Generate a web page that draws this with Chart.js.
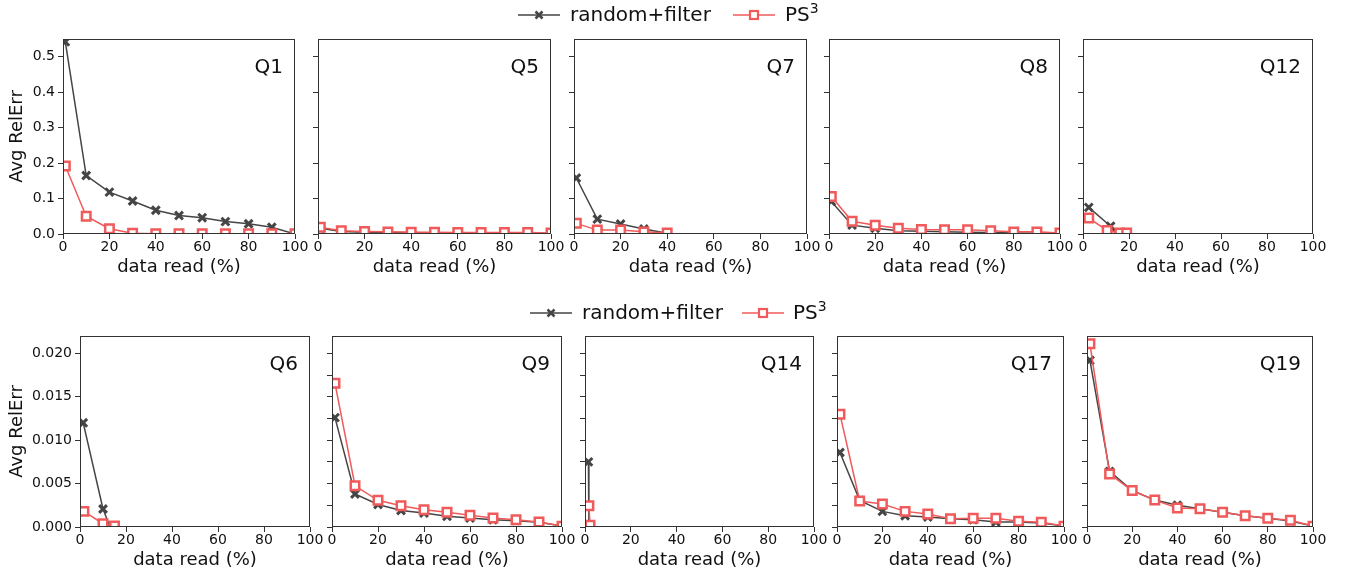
<!DOCTYPE html>
<html lang="en">
<head>
<meta charset="UTF-8" />
<title>Avg RelErr vs data read</title>
<script src="https://cdn.jsdelivr.net/npm/chart.js"></script>
<style>
  body { margin: 0; background: #fff; font-family: 'DejaVu Sans', sans-serif; }
  #fig { position: relative; width: 1348px; height: 574px; overflow: hidden; }
  #fig canvas { position: absolute; }
  .sym { position: absolute; }
  .ltext { position: absolute; font-size: 20px; line-height: 20px; color: #111; white-space: nowrap; }
  .ltext sup { font-size: 14px; vertical-align: 8px; line-height: 0; }
</style>
</head>
<body>
<div id="fig"></div>
<script>
  // ---- data ----
  const readPct = [1, 10, 20, 30, 40, 50, 60, 70, 80, 90, 100];
  const readPctLow = [1.3, 10, 20, 30, 40, 50, 60, 70, 80, 90, 100];
  const xTicks = [0, 20, 40, 60, 80, 100];
  const yTicksTop = [0, 0.1, 0.2, 0.3, 0.4, 0.5];
  const yTicksBottom = [0, 0.005, 0.01, 0.015, 0.02];
  const yTicksBottomMinor = [0, 0.0025, 0.005, 0.0075, 0.01, 0.0125, 0.015, 0.0175, 0.02];

  const q1Rand = [0.542, 0.165, 0.118, 0.093, 0.067, 0.052, 0.046, 0.035, 0.029, 0.019, 0.0];
  const q1Ps3 = [0.192, 0.050, 0.015, 0.002, 0.001, 0.001, 0.001, 0.001, 0.001, 0.001, 0.001];
  const q5Rand = [0.016, 0.007, 0.005, 0.004, 0.004, 0.003, 0.003, 0.003, 0.002, 0.002, 0.001];
  const q5Ps3 = [0.019, 0.009, 0.007, 0.006, 0.005, 0.005, 0.004, 0.004, 0.004, 0.004, 0.003];
  const q7Rand = [0.158, 0.042, 0.028, 0.014, 0.002];
  const q7Ps3 = [0.030, 0.011, 0.011, 0.006, 0.003];
  const q8Rand = [0.092, 0.025, 0.016, 0.009, 0.008, 0.006, 0.005, 0.004, 0.003, 0.002, 0.001];
  const q8Ps3 = [0.106, 0.036, 0.025, 0.016, 0.013, 0.012, 0.012, 0.009, 0.006, 0.006, 0.003];
  const q12RandX = [2.5, 12, 15];
  const q12Rand = [0.075, 0.022, 0.002];
  const q12Ps3X = [2.5, 10.5, 16, 19];
  const q12Ps3 = [0.045, 0.010, 0.003, 0.003];

  const q6RandX = [1.4, 10, 13];
  const q6Rand = [0.0120, 0.00207, 0.00005];
  const q6Ps3X = [1.7, 10, 15];
  const q6Ps3 = [0.0018, 0.00038, 0.00012];
  const q9Rand = [0.0126, 0.0038, 0.0026, 0.0019, 0.0016, 0.00123, 0.00103, 0.00084, 0.00073, 0.00054, 0.0001];
  const q9Ps3 = [0.01655, 0.00475, 0.00307, 0.00245, 0.0020, 0.00169, 0.00134, 0.00103, 0.00084, 0.00057, 0.0001];
  const q14RandX = [1.5, 1.7];
  const q14Rand = [0.0075, 0.0];
  const q14Ps3X = [1.7, 2.2];
  const q14Ps3 = [0.00245, 0.0002];
  const q17Rand = [0.00858, 0.00307, 0.0018, 0.0013, 0.00115, 0.00096, 0.00084, 0.00057, 0.00057, 0.00046, 0.0001];
  const q17Ps3 = [0.0130, 0.0030, 0.00264, 0.0018, 0.0015, 0.00096, 0.0010, 0.0010, 0.00065, 0.00054, 0.0001];
  const q19Rand = [0.0192, 0.0064, 0.0042, 0.0031, 0.0025, 0.0021, 0.0017, 0.0013, 0.0010, 0.0007, 0.0001];
  const q19Ps3 = [0.0211, 0.0061, 0.0042, 0.0031, 0.0022, 0.0021, 0.0017, 0.0013, 0.0010, 0.00077, 0.0001];

  const DARK = '#454545';
  const RED = '#f05a5a';
  const FONT = "'DejaVu Sans', sans-serif";

  const rows = [
    { top: 39, bottom: 234, yMax: 0.55, dec: 1, ticks: yTicksTop, ticksOther: yTicksTop, xH: 48, titlePad: 4 },
    { top: 336, bottom: 527, yMax: 0.022, dec: 3, ticks: yTicksBottom, ticksOther: yTicksBottomMinor, xH: 46, titlePad: 2 }
  ];

  const panels = [
    { name: 'Q1', row: 0, left: 63, right: 295, randX: readPct, rand: q1Rand, ps3X: readPct, ps3: q1Ps3 },
    { name: 'Q5', row: 0, left: 318, right: 551, randX: readPct, rand: q5Rand, ps3X: readPct, ps3: q5Ps3 },
    { name: 'Q7', row: 0, left: 574, right: 807, randX: readPct, rand: q7Rand, ps3X: readPct, ps3: q7Ps3 },
    { name: 'Q8', row: 0, left: 829, right: 1060, randX: readPct, rand: q8Rand, ps3X: readPct, ps3: q8Ps3 },
    { name: 'Q12', row: 0, left: 1083, right: 1313, randX: q12RandX, rand: q12Rand, ps3X: q12Ps3X, ps3: q12Ps3 },
    { name: 'Q6', row: 1, left: 80, right: 310, randX: q6RandX, rand: q6Rand, ps3X: q6Ps3X, ps3: q6Ps3 },
    { name: 'Q9', row: 1, left: 332, right: 562, randX: readPctLow, rand: q9Rand, ps3X: readPctLow, ps3: q9Ps3 },
    { name: 'Q14', row: 1, left: 585, right: 814, randX: q14RandX, rand: q14Rand, ps3X: q14Ps3X, ps3: q14Ps3 },
    { name: 'Q17', row: 1, left: 837, right: 1064, randX: readPctLow, rand: q17Rand, ps3X: readPctLow, ps3: q17Ps3 },
    { name: 'Q19', row: 1, left: 1087, right: 1313, randX: readPctLow, rand: q19Rand, ps3X: readPctLow, ps3: q19Ps3 }
  ];

  // frame (all four spines) + panel name in the top right corner
  const framePlugin = {
    id: 'frame',
    afterDatasetsDraw(chart, args, opts) {
      const { ctx, chartArea: a } = chart;
      ctx.save();
      ctx.strokeStyle = '#333';
      ctx.lineWidth = 1;
      ctx.strokeRect(a.left + 0.5, a.top + 0.5, a.right - a.left - 1, a.bottom - a.top - 1);
      ctx.font = '20px ' + FONT;
      ctx.fillStyle = '#111';
      ctx.textAlign = 'right';
      ctx.textBaseline = 'middle';
      ctx.fillText(opts.text, a.right - 12, a.top + 29);
      ctx.restore();
    }
  };

  const fig = document.getElementById('fig');

  panels.forEach((p, i) => {
    const row = rows[p.row];
    const first = (i === 0 || i === 5);
    const yW = first ? p.left : 10;
    const padT = 12, padR = 18;
    const canvas = document.createElement('canvas');
    const cw = yW + (p.right - p.left) + padR;
    const ch = padT + (row.bottom - row.top) + row.xH;
    canvas.width = cw; canvas.height = ch;
    canvas.style.width = cw + 'px'; canvas.style.height = ch + 'px';
    canvas.style.left = (p.left - yW) + 'px';
    canvas.style.top = (row.top - padT) + 'px';
    fig.appendChild(canvas);

    const yTickVals = first ? row.ticks : row.ticksOther;

    new Chart(canvas.getContext('2d'), {
      type: 'line',
      data: {
        datasets: [{
          label: 'PS3',
          data: p.ps3X.map((x, k) => ({ x: x, y: p.ps3[k] })),
          order: 0,
          borderColor: RED,
          borderWidth: 1.5,
          pointStyle: 'rect',
          pointRadius: 6,
          pointBorderWidth: 2.5,
          pointBackgroundColor: '#fff',
          pointBorderColor: RED,
          tension: 0
        }, {
          label: 'random+filter',
          data: p.randX.map((x, k) => ({ x: x, y: p.rand[k] })),
          order: 1,
          borderColor: DARK,
          borderWidth: 1.5,
          pointStyle: 'crossRot',
          pointRadius: 5.5,
          pointBorderWidth: 3,
          pointBorderColor: DARK,
          tension: 0
        }]
      },
      options: {
        responsive: false,
        animation: false,
        events: [],
        layout: { padding: { top: padT, right: padR, left: 0, bottom: 0 } },
        plugins: {
          legend: { display: false },
          tooltip: { enabled: false },
          frame: { text: p.name }
        },
        scales: {
          x: {
            type: 'linear',
            min: 0, max: 100,
            afterBuildTicks: s => { s.ticks = xTicks.map(v => ({ value: v })); },
            afterFit: s => { s.height = row.xH; s.paddingLeft = 0; s.paddingRight = 0; },
            grid: { display: true, drawOnChartArea: false, drawTicks: true, tickLength: 5, color: '#333' },
            border: { display: false },
            ticks: { autoSkip: false, maxRotation: 0, padding: 0, color: '#111', font: { family: FONT, size: 14 } },
            title: { display: true, text: 'data read (%)', color: '#111', font: { family: FONT, size: 18 }, padding: { top: 0, bottom: row.titlePad } }
          },
          y: {
            type: 'linear',
            min: 0, max: row.yMax,
            afterBuildTicks: s => { s.ticks = yTickVals.map(v => ({ value: v })); },
            afterFit: s => { s.width = yW; s.paddingTop = 0; s.paddingBottom = 0; },
            grid: { display: true, drawOnChartArea: false, drawTicks: true, tickLength: 5, color: '#333' },
            border: { display: false },
            ticks: {
              display: first,
              autoSkip: false,
              padding: 3,
              color: '#111',
              font: { family: FONT, size: 14 },
              callback: v => v.toFixed(row.dec)
            },
            title: { display: first, text: 'Avg RelErr', color: '#111', font: { family: FONT, size: 18 }, padding: { top: 7, bottom: 0 } }
          }
        }
      },
      plugins: [framePlugin]
    });
  });

  // ---- legends above each row ----
  function randSymbol() {
    return '<svg width="42" height="16"><line x1="0" y1="8" x2="42" y2="8" stroke="' + DARK + '" stroke-width="1.5"/>' +
      '<line x1="17.5" y1="4.5" x2="24.5" y2="11.5" stroke="' + DARK + '" stroke-width="2.5"/>' +
      '<line x1="17.5" y1="11.5" x2="24.5" y2="4.5" stroke="' + DARK + '" stroke-width="2.5"/></svg>';
  }
  function ps3Symbol() {
    return '<svg width="42" height="16"><line x1="0" y1="8" x2="42" y2="8" stroke="' + RED + '" stroke-width="1.5"/>' +
      '<rect x="17" y="4" width="8" height="8" fill="#fff" stroke="' + RED + '" stroke-width="2.2"/></svg>';
  }
  const legendRows = [
    { y: 15, sym1: 518, text1: 570, sym2: 733, text2: 785 },
    { y: 312.5, sym1: 530, text1: 582, sym2: 742, text2: 793 }
  ];
  legendRows.forEach(l => {
    const add = (cls, html, x, y) => {
      const d = document.createElement('div');
      d.className = cls;
      d.innerHTML = html;
      d.style.left = x + 'px';
      d.style.top = y + 'px';
      fig.appendChild(d);
    };
    add('sym', randSymbol(), l.sym1, l.y - 8);
    add('ltext', 'random+filter', l.text1, l.y - 11);
    add('sym', ps3Symbol(), l.sym2, l.y - 8);
    add('ltext', 'PS<sup>3</sup>', l.text2, l.y - 11);
  });
</script>
</body>
</html>
